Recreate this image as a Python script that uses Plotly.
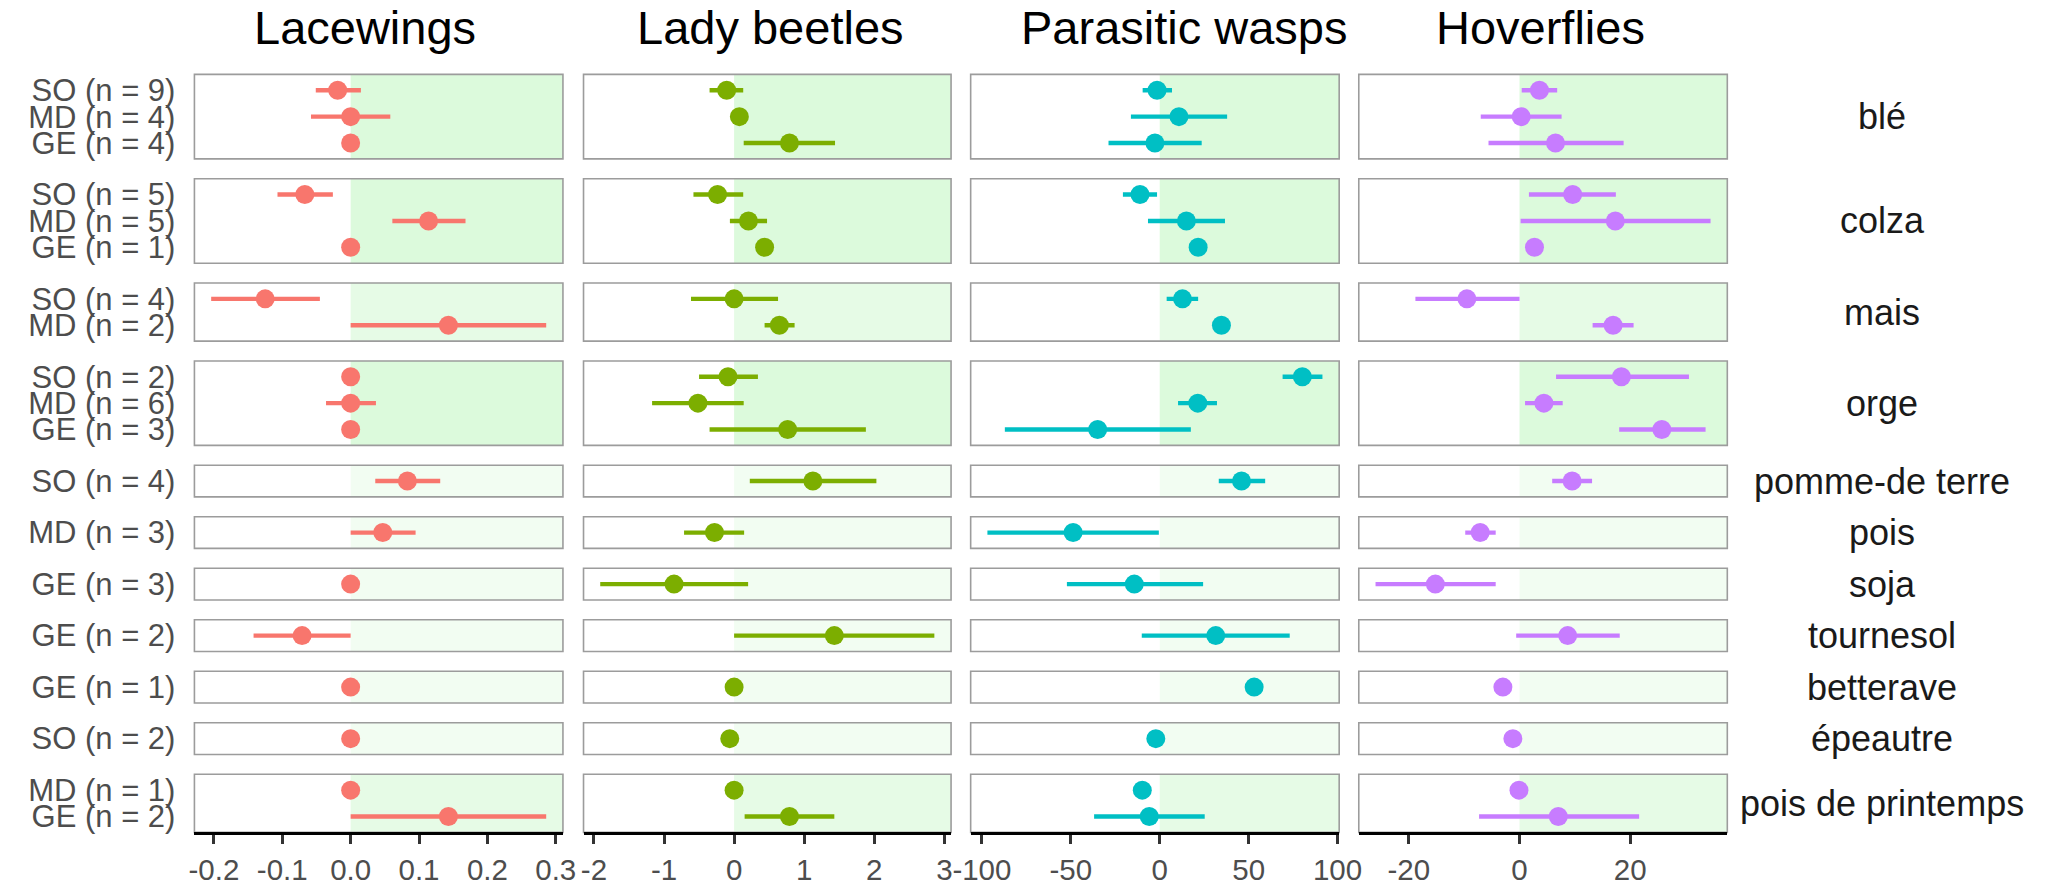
import plotly.graph_objects as go

# ---------------- data ----------------
taxa = ["Lacewings", "Lady beetles", "Parasitic wasps", "Hoverflies"]
taxa_colors = ["#F8766D", "#7CAE00", "#00BFC4", "#C77CFF"]

crops = ["blé", "colza", "mais", "orge", "pomme-de terre", "pois", "soja",
         "tournesol", "betterave", "épeautre", "pois de printemps"]
crop_groups = [["SO", "MD", "GE"], ["SO", "MD", "GE"], ["SO", "MD"], ["SO", "MD", "GE"],
               ["SO"], ["MD"], ["GE"], ["GE"], ["GE"], ["SO"], ["MD", "GE"]]
crop_n = [[9, 4, 4], [5, 5, 1], [4, 2], [2, 6, 3], [4], [3], [3], [2], [1], [2], [1, 2]]

# estimates and interval bounds, in the order crop -> group (None = no interval)
lacewings_est = [-0.019, 0.0, 0.0, -0.067, 0.114, 0.0, -0.125, 0.143, 0.0, 0.0, 0.0,
                 0.083, 0.047, 0.0, -0.071, 0.0, 0.0, 0.0, 0.143]
lacewings_lo = [-0.051, -0.058, None, -0.107, 0.061, None, -0.204, 0.0, None, -0.036, None,
                0.036, 0.0, None, -0.142, None, None, None, 0.0]
lacewings_hi = [0.015, 0.058, None, -0.026, 0.168, None, -0.045, 0.286, None, 0.037, None,
                0.131, 0.095, None, 0.0, None, None, None, 0.286]

ladybeetles_est = [-0.106, 0.075, 0.79, -0.236, 0.205, 0.435, 0.0, 0.646, -0.087, -0.516, 0.764,
                   1.124, -0.28, -0.857, 1.43, 0.0, -0.062, 0.0, 0.79]
ladybeetles_lo = [-0.35, None, 0.137, -0.58, -0.06, None, -0.615, 0.435, -0.5, -1.17, -0.35,
                  0.224, -0.714, -1.91, 0.0, None, None, None, 0.15]
ladybeetles_hi = [0.13, None, 1.44, 0.13, 0.47, None, 0.627, 0.863, 0.34, 0.137, 1.88,
                  2.03, 0.143, 0.2, 2.857, None, None, None, 1.43]

wasps_est = [-1.5, 10.8, -2.7, -11.1, 15.0, 21.6, 12.8, 34.7, 80.2, 21.4, -34.9,
             46.0, -48.7, -14.3, 31.5, 53.1, -2.2, -9.8, -5.9]
wasps_lo = [-9.6, -16.2, -28.8, -20.7, -6.6, None, 3.9, None, 69.1, 10.3, -87.1,
            33.2, -96.9, -52.2, -10.1, None, None, None, -36.9]
wasps_hi = [6.9, 37.9, 23.6, -1.5, 36.7, None, 21.6, None, 91.5, 32.2, 17.5,
            59.3, -0.5, 24.4, 73.1, None, None, None, 25.3]

hoverflies_est = [3.6, 0.3, 6.5, 9.6, 17.3, 2.7, -9.5, 16.9, 18.4, 4.4, 25.7,
                  9.5, -7.1, -15.2, 8.7, -3.0, -1.2, -0.1, 7.0]
hoverflies_lo = [0.4, -7.0, -5.6, 1.7, 0.2, None, -18.8, 13.2, 6.6, 1.0, 18.0,
                 5.9, -9.8, -26.0, -0.6, None, None, None, -7.3]
hoverflies_hi = [6.8, 7.6, 18.8, 17.4, 34.5, None, 0.0, 20.6, 30.6, 7.8, 33.6,
                 13.1, -4.3, -4.3, 18.1, None, None, None, 21.6]

tick_vals = [[-0.2, -0.1, 0.0, 0.1, 0.2, 0.3], [-2, -1, 0, 1, 2, 3],
             [-100, -50, 0, 50, 100], [-20, 0, 20]]
tick_text = [["-0.2", "-0.1", "0.0", "0.1", "0.2", "0.3"], ["-2", "-1", "0", "1", "2", "3"],
             ["-100", "-50", "0", "50", "100"], ["-20", "0", "20"]]

est_all = [lacewings_est, ladybeetles_est, wasps_est, hoverflies_est]
lo_all = [lacewings_lo, ladybeetles_lo, wasps_lo, hoverflies_lo]
hi_all = [lacewings_hi, ladybeetles_hi, wasps_hi, hoverflies_hi]

# ---------------- layout geometry ----------------
W, H = 2061, 886
TOP, BOTTOM, GAP = 74, 838, 20
col_px = [(180, 556), (577, 952), (972, 1348), (1368, 1744)]
title_cx = [354, 768, 1190, 1553]
STRIP_CX = 1902
FONT = "Liberation Sans, Arial, sans-serif"

sizes = [len(g) + 0.2 for g in crop_groups]
unit = (BOTTOM - TOP - GAP * (len(crops) - 1)) / sum(sizes)
row_px = []
yy = TOP
for s in sizes:
    row_px.append((yy, yy + s * unit))
    yy += s * unit + GAP

starts = []
acc = 0
for g in crop_groups:
    starts.append(acc)
    acc += len(g)

def green(n, a=0.12):
    eff = 1 - (1 - a) ** n
    r = 255 - (255 - 144) * eff
    g = 255 - (255 - 238) * eff
    return f"rgb({r:.0f},{g:.0f},{r:.0f})"

fig = go.Figure()
layout = {}
shapes = []
annotations = []
nrows = len(crops)

for c in range(4):
    est, lo, hi = est_all[c], lo_all[c], hi_all[c]
    vals = est + [v for v in lo if v is not None] + [v for v in hi if v is not None]
    dmin, dmax = min(vals), max(vals)
    pad = 0.05 * (dmax - dmin)
    xr = [dmin - pad, dmax + pad]
    bottom_k = (nrows - 1) * 4 + c + 1
    for r in range(nrows):
        k = r * 4 + c + 1
        sfx = "" if k == 1 else str(k)
        groups = crop_groups[r]
        ng = len(groups)
        i0 = starts[r]
        xs = est[i0:i0 + ng]
        los = lo[i0:i0 + ng]
        his = hi[i0:i0 + ng]
        ys = [ng - j for j in range(ng)]
        plus = [(h - x) if h is not None else 0 for x, h in zip(xs, his)]
        minus = [(x - l) if l is not None else 0 for x, l in zip(xs, los)]
        fig.add_trace(go.Scatter(
            x=xs, y=ys, mode="markers", xaxis="x" + sfx, yaxis="y" + sfx,
            marker=dict(color=taxa_colors[c], size=19, line=dict(width=0)),
            error_x=dict(type="data", symmetric=False, array=plus, arrayminus=minus,
                         color=taxa_colors[c], thickness=4.4, width=0),
            showlegend=False, hoverinfo="skip"))
        y0p, y1p = row_px[r]
        is_bottom = (r == nrows - 1)
        xa = dict(domain=[col_px[c][0] / W, col_px[c][1] / W], range=xr,
                  anchor="y" + sfx, showgrid=False, zeroline=False,
                  fixedrange=True)
        if k != bottom_k:
            xa["matches"] = "x" + str(bottom_k)
        if is_bottom:
            xa.update(showline=True, linecolor="black", linewidth=3.2,
                      ticks="outside", ticklen=9, tickwidth=3, tickcolor="#333333",
                      tickmode="array", tickvals=tick_vals[c], ticktext=tick_text[c],
                      tickfont=dict(family=FONT, size=29.5, color="#4d4d4d"))
        else:
            xa.update(showline=False, showticklabels=False, ticks="")
        ya = dict(domain=[1 - y1p / H, 1 - y0p / H], range=[0.4, ng + 0.6],
                  anchor="x" + sfx, showgrid=False, zeroline=False, showline=False,
                  fixedrange=True, ticks="")
        if c == 0:
            ya.update(tickmode="array", tickvals=ys,
                      ticktext=[f"{g} (n = {n})" for g, n in zip(groups, crop_n[r])],
                      tickfont=dict(family=FONT, size=31, color="#4d4d4d"),
                      ticklabelstandoff=18)
        else:
            ya.update(showticklabels=False)
        layout["xaxis" + sfx] = xa
        layout["yaxis" + sfx] = ya
        # positive-effect shading (one translucent layer per estimate)
        shapes.append(dict(type="rect", xref="x" + sfx, yref="y" + sfx + " domain",
                           x0=0, x1=xr[1], y0=0, y1=1, fillcolor=green(ng),
                           line=dict(width=0), layer="below"))
        shapes.append(dict(type="rect", xref="x" + sfx + " domain", yref="y" + sfx + " domain",
                           x0=0, x1=1, y0=0, y1=1, fillcolor="rgba(0,0,0,0)",
                           line=dict(color="#9c9c9c", width=1.6), layer="below"))
    annotations.append(dict(text=taxa[c], xref="paper", yref="paper",
                            x=title_cx[c] / W, y=1 - 27 / H,
                            xanchor="center", yanchor="middle", showarrow=False,
                            font=dict(family=FONT, size=47, color="black")))

for r in range(nrows):
    ymid = (row_px[r][0] + row_px[r][1]) / 2
    annotations.append(dict(text=crops[r], xref="paper", yref="paper",
                            x=STRIP_CX / W, y=1 - ymid / H, xanchor="center", yanchor="middle",
                            showarrow=False,
                            font=dict(family=FONT, size=36, color="#1a1a1a")))

fig.update_layout(width=W, height=H, margin=dict(l=0, r=0, t=0, b=0),
                  paper_bgcolor="white", plot_bgcolor="white",
                  shapes=shapes, annotations=annotations, showlegend=False, **layout)

fig.write_html("out.html")
